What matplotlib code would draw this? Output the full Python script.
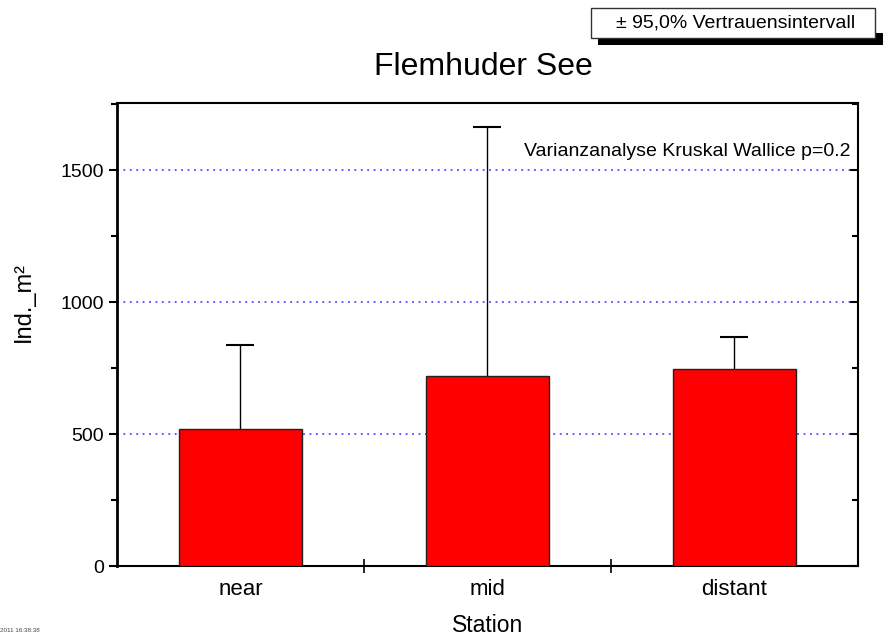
import numpy as np
import matplotlib.pyplot as plt
from matplotlib.patches import Rectangle
from matplotlib.ticker import MultipleLocator, FixedLocator

plt.rcParams['font.family'] = ['Liberation Sans', 'DejaVu Sans']

# datos
estaciones = ["near", "mid", "distant"]
medias = [519, 720, 746]
ic_sup = [837, 1663, 869]          # límite superior del intervalo 95 %
errores = [s - m for s, m in zip(ic_sup, medias)]

W, H = 883, 639
fig = plt.figure(figsize=(W / 100, H / 100), dpi=100)
ax = fig.add_axes([0.1325, 0.1142, 0.839, 0.7246])

x = np.arange(len(estaciones))
ax.bar(x, medias, width=0.5, color="#ff0000", edgecolor="#222222",
       linewidth=1.0, zorder=3)
eb = ax.errorbar(x, medias, yerr=[np.zeros(len(x)), errores], fmt="none",
                 ecolor="black", elinewidth=1.0, capsize=10, capthick=1.5,
                 zorder=2)
eb[1][0].set_visible(False)   # sin tapa inferior

for y in (500, 1000, 1500):
    ax.axhline(y, color="#3030ff", linestyle=(0, (1.2, 3)), linewidth=1.1,
               zorder=1)

ax.set_xlim(-0.5, 2.5)
ax.set_ylim(0, 1754)

# eje x: marcas entre categorías, etiquetas en el centro
ax.xaxis.set_major_locator(FixedLocator([0.5, 1.5]))
ax.xaxis.set_minor_locator(FixedLocator(x))
ax.set_xticklabels([], minor=False)
ax.set_xticklabels(estaciones, minor=True, fontsize=16)
ax.tick_params(axis="x", which="major", direction="inout", length=10,
               width=1.2)
ax.tick_params(axis="x", which="minor", length=0, pad=9)

ax.yaxis.set_major_locator(MultipleLocator(500))
ax.yaxis.set_minor_locator(MultipleLocator(250))
ax.tick_params(axis="y", which="both", direction="out", labelsize=14,
               width=1.5, right=True)
ax.tick_params(axis="y", which="major", length=6)
ax.tick_params(axis="y", which="minor", length=4)
# marcas del lado derecho hacia dentro
for t in ax.yaxis.get_major_ticks() + ax.yaxis.get_minor_ticks():
    t.tick2line.set_marker(0)

for lado, w in (("left", 2.0), ("bottom", 1.5), ("top", 1.5), ("right", 1.5)):
    ax.spines[lado].set_linewidth(w)

fig.text(488 / W, 1 - 626 / H, "Station", ha="center", va="center",
         fontsize=16.5)
fig.text(24 / W, 1 - 302 / H, "Ind._m²", ha="center", va="center",
         rotation=90, fontsize=17)
fig.text(483 / W, 1 - 67 / H, "Flemhuder See", ha="center", va="center",
         fontsize=23)
ax.text(0.99, 0.895, "Varianzanalyse Kruskal Wallice p=0.2",
        transform=ax.transAxes, ha="right", va="center", fontsize=14)

# leyenda con sombra
fig.add_artist(Rectangle((598 / W, 1 - 45 / H), 290 / W, 12 / H,
                         transform=fig.transFigure, facecolor="black",
                         edgecolor="none"))
fig.add_artist(Rectangle((591 / W, 1 - 38 / H), 284 / W, 30 / H,
                         transform=fig.transFigure, facecolor="white",
                         edgecolor="#333333", linewidth=1.0))
fig.text(736 / W, 1 - 23 / H, "± 95,0% Vertrauensintervall", ha="center",
         va="center", fontsize=14)

fig.text(0.0, 1 - 630 / H, "2011 16:38:38", fontsize=4.5, color="#444444",
         va="center")

fig.savefig("out.png", dpi=100)
